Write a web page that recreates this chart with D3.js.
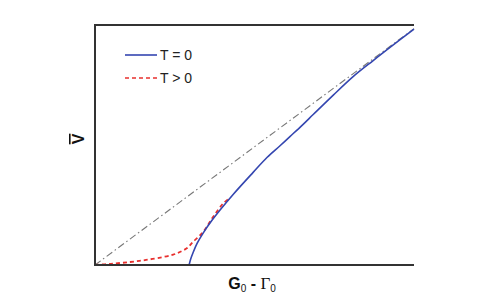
<!DOCTYPE html>
<html>
<head>
<meta charset="utf-8">
<script src="https://cdn.jsdelivr.net/npm/d3@7"></script>
<style>
  body { margin: 0; background: #fff; }
  svg { display: block; }
</style>
</head>
<body>
<div class="chart"></div>
<script>
var width = 491;
var height = 307;
var margin = { top: 25, right: 77, bottom: 42, left: 95 };

// T = 0 curve (x: G0 - Γ0, y: mean V), normalised units
var coldX = [0.295, 0.300, 0.307, 0.320, 0.339, 0.365, 0.392, 0.433, 0.495, 0.539, 0.580, 0.611, 0.650, 0.684, 0.747, 0.810, 0.872, 0.935, 1.0];
var coldY = [0.0, 0.025, 0.05, 0.09, 0.133, 0.183, 0.229, 0.294, 0.385, 0.448, 0.497, 0.535, 0.583, 0.627, 0.708, 0.786, 0.852, 0.917, 0.983];

// T > 0 curve
var warmX = [0.0, 0.05, 0.11, 0.16, 0.213, 0.245, 0.266, 0.290, 0.307, 0.339, 0.370, 0.401, 0.423];
var warmY = [0.0, 0.005, 0.0125, 0.021, 0.033, 0.043, 0.054, 0.072, 0.096, 0.1375, 0.2, 0.255, 0.279];

// asymptote
var lineX = [0, 1];
var lineY = [0, 0.985];

var legendLabels = ["T = 0", "T > 0"];

var svg = d3.select(".chart").append("svg")
  .attr("width", width)
  .attr("height", height);

var x = d3.scaleLinear().domain([0, 1]).range([margin.left, width - margin.right]);
var y = d3.scaleLinear().domain([0, 1]).range([height - margin.bottom, margin.top]);

var line = d3.line()
  .x(function (d) { return x(d[0]); })
  .y(function (d) { return y(d[1]); })
  .curve(d3.curveCatmullRom);

// asymptote, dash-dot
svg.append("path")
  .datum(d3.zip(lineX, lineY))
  .attr("d", line)
  .attr("fill", "none")
  .attr("stroke", "#777")
  .attr("stroke-width", 1.1)
  .attr("stroke-dasharray", "7,3,1.5,3");

svg.append("path")
  .datum(d3.zip(warmX, warmY))
  .attr("d", line)
  .attr("fill", "none")
  .attr("stroke", "#e8302e")
  .attr("stroke-width", 1.8)
  .attr("stroke-dasharray", "4,3");

svg.append("path")
  .datum(d3.zip(coldX, coldY))
  .attr("d", line)
  .attr("fill", "none")
  .attr("stroke", "#3446b0")
  .attr("stroke-width", 1.6);

// frame: left, top, bottom
var frame = svg.append("g").attr("stroke", "#333").attr("stroke-width", 2);
frame.append("line").attr("x1", x(0)).attr("x2", x(0)).attr("y1", y(0) + 1).attr("y2", y(1) - 1);
frame.append("line").attr("x1", x(0)).attr("x2", x(1)).attr("y1", y(1)).attr("y2", y(1));
frame.append("line").attr("x1", x(0)).attr("x2", x(1)).attr("y1", y(0)).attr("y2", y(0));

// legend
var legend = svg.append("g").attr("id", "legend");
var legendRows = legend.selectAll("g")
  .data(legendLabels)
  .enter().append("g")
  .attr("transform", function (d, i) { return "translate(125," + (55 + i * 23) + ")"; });

legendRows.append("line")
  .attr("x1", 0).attr("x2", 32)
  .attr("stroke", function (d, i) { return i === 0 ? "#3446b0" : "#e8302e"; })
  .attr("stroke-width", 1.6)
  .attr("stroke-dasharray", function (d, i) { return i === 0 ? null : "4,3"; });

legendRows.append("text")
  .attr("x", 35)
  .attr("y", 5)
  .attr("font-family", "Liberation Sans, Arial, sans-serif")
  .attr("font-size", 14)
  .attr("fill", "#222")
  .text(function (d) { return d; });

// x label
var xl = svg.append("text")
  .attr("x", 252)
  .attr("y", 289)
  .attr("text-anchor", "middle")
  .attr("font-family", "Liberation Sans, Arial, sans-serif")
  .attr("font-size", 16)
  .attr("fill", "#111");
xl.append("tspan").attr("font-weight", "bold").text("G");
xl.append("tspan").attr("font-size", 10).attr("dy", 3).text("0");
xl.append("tspan").attr("dy", -3).attr("font-weight", "bold").text(" - ");
xl.append("tspan").attr("font-family", "Liberation Serif, Times New Roman, serif").attr("font-size", 17).text("Γ");
xl.append("tspan").attr("font-size", 10).attr("dy", 3).text("0");

// y label
svg.append("text")
  .attr("transform", "translate(84,139) rotate(-90)")
  .attr("text-anchor", "middle")
  .attr("font-family", "Liberation Sans, Arial, sans-serif")
  .attr("font-size", 16)
  .attr("font-weight", "bold")
  .attr("fill", "#111")
  .style("text-decoration", "overline")
  .text("V");
</script>
</body>
</html>
